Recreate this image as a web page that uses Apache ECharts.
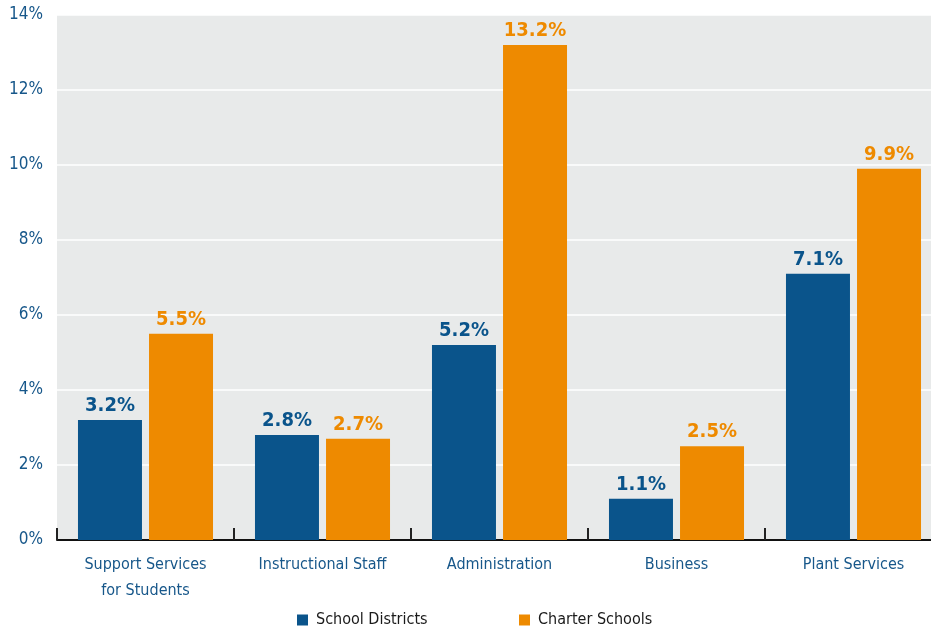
<!DOCTYPE html>
<html><head><meta charset="utf-8">
<script src="https://cdn.jsdelivr.net/npm/echarts@6/dist/echarts.min.js"></script>
<style>html,body{margin:0;padding:0;background:#fff}#c{width:931px;height:628px}</style>
</head><body><div id="c"></div>
<script>
const categories = ['Support Services\nfor Students', 'Instructional Staff', 'Administration', 'Business', 'Plant Services'];
const seriesNames = ['School Districts', 'Charter Schools'];
const schoolDistricts = [3.2, 2.8, 5.2, 1.1, 7.1];
const charterSchools = [5.5, 2.7, 13.2, 2.5, 9.9];
const yTicks = [0, 2, 4, 6, 8, 10, 12, 14];

const FONT = '"DejaVu Sans Condensed", "Liberation Sans Narrow", sans-serif';
const BLUE = '#0a548b', ORANGE = '#ee8a00', TEXTBLUE = '#17578a';
const chart = echarts.init(document.getElementById('c'), null, {renderer: 'canvas'});
function labelStyle(color) {
  return {show: true, position: 'top', distance: 4, color: color, fontFamily: FONT,
    fontWeight: 'bold', fontSize: 20, formatter: p => p.value.toFixed(1) + '%'};
}
const legendBase = {icon: 'rect', itemWidth: 11, itemHeight: 11, top: 612, padding: 0,
  textStyle: {fontFamily: FONT, fontSize: 16, color: '#1a1a1a', padding: [0, 0, 0, 3]}};
chart.setOption({
  animation: false,
  textStyle: {fontFamily: FONT},
  grid: {left: 57, top: 15, width: 885, height: 525, outerBoundsMode: 'none', containLabel: false,
    backgroundColor: '#e8eaea', show: true, borderWidth: 0},
  legend: [
    Object.assign({data: [seriesNames[0]], left: 297}, legendBase),
    Object.assign({data: [seriesNames[1]], left: 519}, legendBase)
  ],
  xAxis: {
    type: 'category', data: categories,
    axisLine: {lineStyle: {color: '#111', width: 2}},
    axisTick: {show: true, inside: true, interval: 0, length: 12, lineStyle: {color: '#222', width: 2}},
    axisLabel: {interval: 0, color: TEXTBLUE, fontFamily: FONT, fontSize: 16, margin: 12, lineHeight: 26}
  },
  yAxis: {
    type: 'value', min: yTicks[0], max: yTicks[yTicks.length-1], interval: 2,
    axisLine: {show: false}, axisTick: {show: false},
    splitLine: {lineStyle: {color: '#ffffff', width: 1.5}},
    axisLabel: {color: TEXTBLUE, fontFamily: FONT, fontSize: 17, margin: 14, formatter: v => v + '%'}
  },
  series: [
    {name: seriesNames[0], type: 'bar', data: schoolDistricts, barWidth: 64, barGap: '11%',
      itemStyle: {color: BLUE}, label: labelStyle(BLUE)},
    {name: seriesNames[1], type: 'bar', data: charterSchools, barWidth: 64,
      itemStyle: {color: ORANGE}, label: labelStyle(ORANGE)}
  ]
});
</script></body></html>
